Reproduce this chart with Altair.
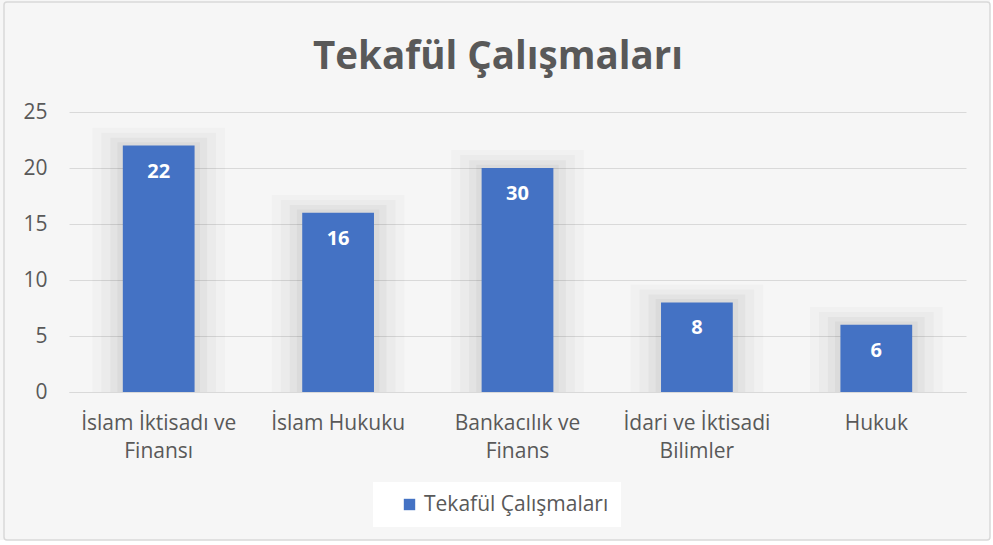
import altair as alt
import pandas as pd

categories = ["İslam İktisadı ve\nFinansı", "İslam Hukuku", "Bankacılık ve\nFinans",
              "İdari ve İktisadi\nBilimler", "Hukuk"]
values = [22, 16, 20, 8, 6]
labels = ["22", "16", "30", "8", "6"]
series = "Tekafül Çalışmaları"
title_text = "Tekafül Çalışmaları"

df = pd.DataFrame({"cat": categories, "v": values, "lab": labels, "s": [series] * 5})

FONT = "Open Sans"
GREY = "#595959"
BLUE = "#4472C4"

xenc = alt.X("cat:N", sort=categories, title=None,
             scale=alt.Scale(paddingInner=0.6, paddingOuter=0.3),
             axis=alt.Axis(labelAngle=0, labelExpr="split(datum.label, '\\n')",
                           labelFontSize=21, labelColor=GREY, labelFont=FONT,
                           labelLineHeight=28, labelPadding=20, ticks=False,
                           domainColor="#d9d9d9", grid=False))
yscale = alt.Scale(domain=[0, 25])

base = alt.Chart(df)
one = alt.Chart(pd.DataFrame({"t": [title_text]}))

outer = one.mark_rect(fill=None, stroke="white", strokeWidth=8).encode(
    x=alt.value(-73), x2=alt.value(925), y=alt.value(-116), y2=alt.value(432))
frame = one.mark_rect(fill=None, stroke="#d9d9d9", strokeWidth=1.5,
                      cornerRadius=3).encode(
    x=alt.value(-65), x2=alt.value(921), y=alt.value(-110), y2=alt.value(428))
title = one.mark_text(fontSize=38.5, font=FONT, fontWeight="bold", color=GREY,
                      align="center", baseline="alphabetic").encode(
    x=alt.value(429), y=alt.value(-43), text="t:N")

grid = base.mark_bar(opacity=0).encode(
    x=xenc,
    y=alt.Y("v:Q", scale=yscale, title=None,
            axis=alt.Axis(values=[0, 5, 10, 15, 20, 25], gridColor="#d9d9d9",
                          gridWidth=1.2, domain=False, ticks=False,
                          labelFontSize=21, labelColor=GREY, labelFont=FONT,
                          labelPadding=22)))

halos = []
for band, extra, op in [(1.85, 1.6, 0.02), (1.6, 1.15, 0.025), (1.35, 0.7, 0.03),
                        (1.15, 0.3, 0.035)]:
    halos.append(
        base.transform_calculate(h=f"datum.v + {extra}").mark_bar(
            width=alt.RelativeBandSize(band), color="black", opacity=op).encode(
            x=alt.X("cat:N", sort=categories), y=alt.Y("h:Q", scale=yscale)))

bars = base.mark_bar(color=BLUE).encode(
    x=alt.X("cat:N", sort=categories),
    y=alt.Y("v:Q", scale=yscale),
    color=alt.Color("s:N", scale=alt.Scale(range=[BLUE]), title=None,
                    legend=alt.Legend(orient="none", legendX=304, legendY=370,
                                      fillColor="white", padding=12,
                                      symbolOffset=14,
                                      symbolType="square", symbolSize=130,
                                      symbolStrokeWidth=0, labelFontSize=21,
                                      labelColor=GREY, labelFont=FONT,
                                      labelOffset=4,
                                      labelLimit=400)))

texts = base.mark_text(color="white", fontWeight="bold", fontSize=20, font=FONT,
                       baseline="middle", dy=26).encode(
    x=alt.X("cat:N", sort=categories),
    y=alt.Y("v:Q", scale=yscale),
    text="lab:N")

chart = alt.layer(outer, frame, title, grid, *halos, bars, texts).properties(
    width=897, height=280,
    padding={"left": 69, "top": 112, "right": 27, "bottom": 153},
    autosize=alt.AutoSizeParams(type="none"),
    background="#f6f6f6",
).configure_view(stroke=None)

chart.save("out.html", embed_options={"renderer": "svg", "actions": False})
